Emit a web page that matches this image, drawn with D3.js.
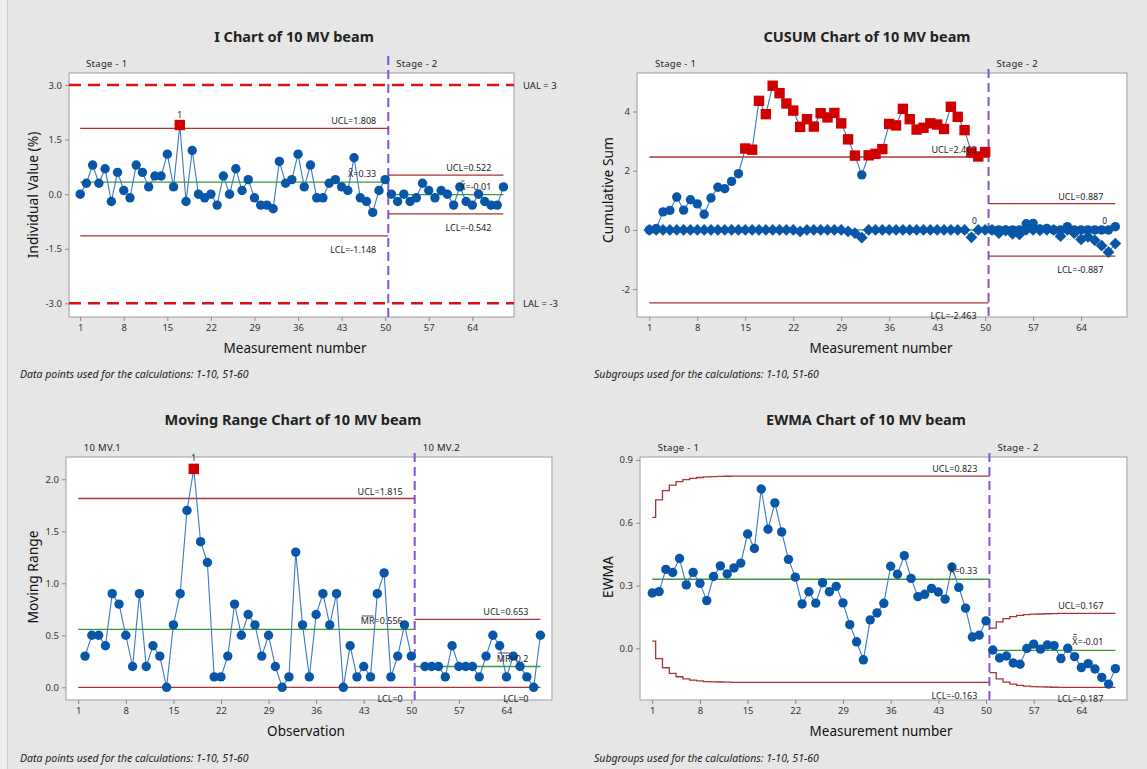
<!DOCTYPE html>
<html>
<head>
<meta charset="utf-8">
<script src="https://cdn.jsdelivr.net/npm/d3@7"></script>
<style>
  body { margin: 0; background: #e6e6e6; }
  svg { display: block; font-family: "Noto Sans", "Open Sans", sans-serif; }
</style>
</head>
<body>
<svg id="chart" width="1147" height="769"></svg>
<script>
// ---- values ----
const xTicks = [1, 8, 15, 22, 29, 36, 43, 50, 57, 64];
const stageSplit = 50.5;   // purple dashed line between stage 1 and 2
const lastObs = 69;

// I chart, observations 1..69
const individual = [
  0.0, 0.3, 0.8, 0.3, 0.7, -0.2, 0.6, 0.1, -0.1, 0.8,
  0.6, 0.2, 0.5, 0.5, 1.1, 0.2, 1.9, -0.2, 1.2, 0.0,
  -0.1, 0.0, -0.3, 0.5, 0.0, 0.7, 0.1, 0.4, -0.1, -0.3,
  -0.3, -0.4, 0.9, 0.3, 0.4, 1.1, 0.2, 0.8, -0.1, -0.1,
  0.3, 0.4, 0.2, 0.1, 1.0, -0.1, -0.2, -0.5, 0.1, 0.4,
  0.0, -0.2, 0.0, -0.2, -0.1, 0.3, 0.1, -0.1, 0.1, 0.0,
  -0.3, 0.2, -0.2, -0.3, 0.0, -0.2, -0.3, -0.3, 0.2
];

// moving range, observations 2..50 and 52..69
const mrStage1 = [
  0.3, 0.5, 0.5, 0.4, 0.9, 0.8, 0.5, 0.2, 0.9,
  0.2, 0.4, 0.3, 0.0, 0.6, 0.9, 1.7, 2.1, 1.4, 1.2,
  0.1, 0.1, 0.3, 0.8, 0.5, 0.7, 0.6, 0.3, 0.5, 0.2,
  0.0, 0.1, 1.3, 0.6, 0.1, 0.7, 0.9, 0.6, 0.9, 0.0,
  0.4, 0.1, 0.2, 0.1, 0.9, 1.1, 0.1, 0.3, 0.6, 0.3
];
const mrStage2 = [0.2, 0.2, 0.2, 0.1, 0.4, 0.2, 0.2, 0.2, 0.1, 0.3, 0.5, 0.4, 0.1, 0.3, 0.2, 0.1, 0.0, 0.5];

// CUSUM upper and lower sums, observations 1..69
const cusumUpper = [
  0, 0.05, 0.61, 0.66, 1.11, 0.67, 1.02, 0.88, 0.53, 1.08,
  1.44, 1.39, 1.64, 1.90, 2.75, 2.71, 4.36, 3.91, 4.87, 4.62,
  4.27, 4.03, 3.48, 3.74, 3.49, 3.94, 3.80, 3.95, 3.60, 3.06,
  2.51, 1.86, 2.52, 2.57, 2.73, 3.58, 3.53, 4.09, 3.74, 3.39,
  3.45, 3.60, 3.56, 3.41, 4.16, 3.82, 3.37, 2.62, 2.48, 2.63,
  0, 0, 0, 0, 0, 0.21, 0.22, 0.03, 0.05, 0,
  0, 0.11, 0, 0, 0, 0, 0, 0, 0.11
];
const cusumLower = [
  0, 0, 0, 0, 0, 0, 0, 0, 0, 0,
  0, 0, 0, 0, 0, 0, 0, 0, 0, 0,
  0, 0, -0.05, 0, 0, 0, 0, 0, 0, -0.05,
  -0.11, -0.26, 0, 0, 0, 0, 0, 0, 0, 0,
  0, 0, 0, 0, 0, 0, 0, -0.25, 0, 0,
  0, -0.11, -0.02, -0.13, -0.15, 0, 0, -0.01, 0, 0,
  -0.21, 0, -0.11, -0.32, -0.23, -0.35, -0.53, -0.75, -0.46
];

// EWMA, observations 1..69
const ewma = [
  0.264, 0.271, 0.377, 0.362, 0.429, 0.303, 0.363, 0.310, 0.228, 0.343,
  0.394, 0.355, 0.384, 0.407, 0.546, 0.477, 0.761, 0.569, 0.695, 0.556,
  0.425, 0.340, 0.212, 0.270, 0.216, 0.313, 0.270, 0.296, 0.217, 0.113,
  0.031, -0.055, 0.136, 0.169, 0.215, 0.392, 0.354, 0.443, 0.334, 0.247,
  0.258, 0.286, 0.269, 0.235, 0.388, 0.291, 0.192, 0.054, 0.063, 0.131,
  -0.008, -0.046, -0.037, -0.070, -0.076, -0.001, 0.020, -0.004, 0.016, 0.013,
  -0.049, 0.000, -0.040, -0.092, -0.073, -0.099, -0.139, -0.171, -0.097
];
// EWMA stepped limits (they level off at the last value)
const ewmaUcl1 = [0.626, 0.709, 0.753, 0.780, 0.796, 0.806, 0.812, 0.816, 0.819, 0.820, 0.821, 0.822, 0.823];
const ewmaLcl1 = [0.034, -0.049, -0.093, -0.120, -0.136, -0.146, -0.152, -0.156, -0.159, -0.160, -0.161, -0.162, -0.163];
const ewmaUcl2 = [0.096, 0.126, 0.142, 0.151, 0.157, 0.161, 0.163, 0.164, 0.165, 0.166, 0.167];
const ewmaLcl2 = [-0.116, -0.146, -0.162, -0.171, -0.177, -0.181, -0.183, -0.184, -0.185, -0.186, -0.187];

// control limits per stage
const iLimits = [
  { ucl: 1.808, cl: 0.33, lcl: -1.148, uclText: 'UCL=1.808', clText: '=0.33', lclText: 'LCL=-1.148' },
  { ucl: 0.522, cl: -0.01, lcl: -0.542, uclText: 'UCL=0.522', clText: '=-0.01', lclText: 'LCL=-0.542' }
];
const specLimits = [{ v: 3, text: 'UAL = 3' }, { v: -3, text: 'LAL = -3' }];
const mrLimits = [
  { ucl: 1.815, cl: 0.556, lcl: 0, uclText: 'UCL=1.815', clText: '=0.556', lclText: 'LCL=0' },
  { ucl: 0.653, cl: 0.2, lcl: 0, uclText: 'UCL=0.653', clText: '=0.2', lclText: 'LCL=0' }
];
const cusumLimits = [
  { ucl: 2.463, lcl: -2.463, uclText: 'UCL=2.463', lclText: 'LCL=-2.463' },
  { ucl: 0.887, lcl: -0.887, uclText: 'UCL=0.887', lclText: 'LCL=-0.887' }
];
const ewmaLimits = [
  { cl: 0.33, uclText: 'UCL=0.823', clText: '=0.33', lclText: 'LCL=-0.163' },
  { cl: -0.01, uclText: 'UCL=0.167', clText: '=-0.01', lclText: 'LCL=-0.187' }
];

const iTicks = [-3, -1.5, 0, 1.5, 3];
const cusumTicks = [-2, 0, 2, 4];
const mrTicks = [0, 0.5, 1.0, 1.5, 2.0];
const ewmaTicks = [0, 0.3, 0.6, 0.9];

// ---- colours ----
const blue = '#0756a8';
const lineBlue = '#3b79c2';
const red = '#d10000';
const limitRed = '#ac3434';
const green = '#3a9a3a';
const purple = '#8454d8';

const svg = d3.select('#chart');
const xDomain = [-0.8, 70.7];

// background
svg.append('rect').attr('width', 1147).attr('height', 769).attr('fill', '#e6e6e6');
svg.append('rect').attr('width', 7).attr('height', 769).attr('fill', '#efefef');
svg.append('line').attr('x1', 7.5).attr('x2', 7.5).attr('y1', 0).attr('y2', 769)
  .attr('stroke', '#cfcfcf');

// Build frame, axes and texts of one panel
function setupPanel(p) {
  const f = p.frame;
  const x = d3.scaleLinear().domain(xDomain).range([f.left, f.right]);
  const y = d3.scaleLinear().domain(p.yDomain).range([f.bottom, f.top]);
  const g = svg.append('g');

  g.append('rect')
    .attr('x', f.left).attr('y', f.top)
    .attr('width', f.right - f.left).attr('height', f.bottom - f.top)
    .attr('fill', '#fff').attr('stroke', '#ababab').attr('stroke-width', 1.2);

  const xAxis = g.append('g')
    .attr('transform', `translate(0, ${f.bottom})`)
    .call(d3.axisBottom(x).tickValues(xTicks).tickSize(4).tickPadding(3));
  const yAxis = g.append('g')
    .attr('transform', `translate(${f.left}, 0)`)
    .call(d3.axisLeft(y).tickValues(p.yTicks).tickFormat(p.yFormat).tickSize(4).tickPadding(3));
  [xAxis, yAxis].forEach((a) => {
    a.select('.domain').remove();
    a.selectAll('line').attr('stroke', '#8a8a8a');
    a.selectAll('text').attr('fill', '#333').style('font-size', '9.5px')
      .style('font-family', '"Noto Sans", sans-serif');
  });

  // title
  g.append('text').attr('x', p.titleX).attr('y', p.titleY)
    .attr('text-anchor', 'middle').attr('font-weight', 'bold')
    .attr('font-size', 14.5).attr('fill', '#222').text(p.title);
  // axis labels
  g.append('text').attr('x', p.xLabelX).attr('y', f.bottom + 36)
    .attr('text-anchor', 'middle').attr('font-size', 13.5).attr('fill', '#111').text(p.xLabel);
  g.append('text')
    .attr('transform', `translate(${p.yLabelX}, ${p.yLabelY}) rotate(-90)`)
    .attr('text-anchor', 'middle').attr('dominant-baseline', 'central')
    .attr('font-size', 13.8).attr('fill', '#111').text(p.yLabel);
  // stage names
  g.append('text').attr('x', x(0.5) + 9).attr('y', f.top - 6.5)
    .attr('font-size', 9.5).attr('letter-spacing', 0.3).attr('fill', '#222').text(p.stages[0]);
  g.append('text').attr('x', x(stageSplit) + 8).attr('y', f.top - 6.5)
    .attr('font-size', 9.5).attr('letter-spacing', 0.3).attr('fill', '#222').text(p.stages[1]);
  // footnote
  g.append('text').attr('x', p.noteX).attr('y', p.noteY)
    .attr('font-size', 10.5).attr('font-style', 'italic').attr('fill', '#222').text(p.note);

  return { g, x, y, f };
}

// Stage divider
function drawStageLine(pn, above) {
  pn.g.append('line')
    .attr('x1', pn.x(stageSplit)).attr('x2', pn.x(stageSplit))
    .attr('y1', pn.f.top - above).attr('y2', pn.f.bottom + 3)
    .attr('stroke', purple).attr('stroke-width', 2).attr('stroke-dasharray', '9,5');
}

// Horizontal reference line between two observation positions
function hLine(pn, a, b, v, color) {
  pn.g.append('line')
    .attr('x1', pn.x(a)).attr('x2', pn.x(b))
    .attr('y1', pn.y(v)).attr('y2', pn.y(v))
    .attr('stroke', color).attr('stroke-width', 1.3);
}

// Stepped limit line (EWMA)
function stepLine(pn, vals, start, end, firstObs) {
  const pts = [[start, vals[0]]];
  for (let k = 1; k < vals.length; k++) pts.push([firstObs + k - 0.5, vals[k]]);
  pts.push([end, vals[vals.length - 1]]);
  const line = d3.line().x((d) => pn.x(d[0])).y((d) => pn.y(d[1])).curve(d3.curveStepAfter);
  pn.g.append('path').attr('d', line(pts))
    .attr('fill', 'none').attr('stroke', limitRed).attr('stroke-width', 1.3);
}

// Text label next to a limit line, right aligned at xEnd
function limitLabel(pn, xEnd, v, text, below) {
  // labels under a line stay inside the frame bottom
  const down = Math.min(17, pn.f.bottom + 1.5 - pn.y(v));
  return pn.g.append('text')
    .attr('x', xEnd).attr('y', pn.y(v) + (below ? down : -4))
    .attr('text-anchor', 'end').attr('font-size', 9).attr('fill', '#222').text(text);
}

// Label with bar(s) over the leading symbol, e.g. X-bar, MR-bar
function barLabel(pn, xEnd, v, symbol, rest, bars) {
  const t = pn.g.append('text')
    .attr('x', xEnd).attr('y', pn.y(v) - 5)
    .attr('text-anchor', 'end').attr('font-size', 9).attr('fill', '#222').text(symbol + rest);
  const node = t.node();
  const sx = node.getStartPositionOfChar(0).x;
  const w = node.getSubStringLength(0, symbol.length);
  const by = pn.y(v) - 5 - 8.5;
  for (let b = 0; b < bars; b++) {
    pn.g.append('line')
      .attr('x1', sx + 1).attr('x2', sx + w - 1)
      .attr('y1', by - b * 2.5).attr('y2', by - b * 2.5)
      .attr('stroke', '#222').attr('stroke-width', 0.8);
  }
}

// Connected series, one path per stage, markers on top
function drawSeries(pn, pts, opts) {
  const line = d3.line().x((d) => pn.x(d.obs)).y((d) => pn.y(d.v));
  [pts.filter((d) => d.obs <= 50), pts.filter((d) => d.obs > 50)].forEach((seg) => {
    pn.g.append('path').attr('d', line(seg))
      .attr('fill', 'none').attr('stroke', lineBlue).attr('stroke-width', 1.1);
  });
  const marks = pn.g.append('g');
  pts.forEach((d) => {
    const cx = pn.x(d.obs), cy = pn.y(d.v);
    if (d.out) {
      marks.append('rect').attr('x', cx - 5.2).attr('y', cy - 5.2)
        .attr('width', 10.4).attr('height', 10.4).attr('fill', red);
    } else if (opts && opts.diamond) {
      const s = 5.9;
      marks.append('path').attr('d', `M${cx},${cy - s}L${cx + s},${cy}L${cx},${cy + s}L${cx - s},${cy}Z`)
        .attr('fill', blue);
    } else {
      marks.append('circle').attr('cx', cx).attr('cy', cy).attr('r', 4.7).attr('fill', blue);
    }
  });
}

const fmt1 = (d) => d.toFixed(1);

// ================= I chart =================
const iPanel = setupPanel({
  frame: { left: 69, right: 514, top: 73, bottom: 317 },
  yDomain: [-3.375, 3.33], yTicks: iTicks, yFormat: fmt1,
  title: 'I Chart of 10 MV beam', titleX: 294, titleY: 42,
  xLabel: 'Measurement number', xLabelX: 295,
  yLabel: 'Individual Value (%)', yLabelX: 32, yLabelY: 195,
  stages: ['Stage - 1', 'Stage - 2'],
  note: 'Data points used for the calculations: 1-10, 51-60', noteX: 20, noteY: 378
});
specLimits.forEach((s) => {
  iPanel.g.append('line')
    .attr('x1', iPanel.f.left).attr('x2', iPanel.f.right)
    .attr('y1', iPanel.y(s.v)).attr('y2', iPanel.y(s.v))
    .attr('stroke', '#dd1111').attr('stroke-width', 2.5).attr('stroke-dasharray', '12,7');
  iPanel.g.append('text').attr('x', iPanel.f.right + 9).attr('y', iPanel.y(s.v))
    .attr('dominant-baseline', 'central').attr('font-size', 9.5).attr('fill', '#222').text(s.text);
});
drawStageLine(iPanel, 17);
iLimits.forEach((L, s) => {
  const a = s === 0 ? 1 : stageSplit;
  const b = s === 0 ? stageSplit : lastObs;
  hLine(iPanel, a, b, L.ucl, limitRed);
  hLine(iPanel, a, b, L.lcl, limitRed);
  hLine(iPanel, a, b, L.cl, green);
});
drawSeries(iPanel, individual.map((v, i) => ({
  obs: i + 1, v, out: v > iLimits[i < 50 ? 0 : 1].ucl || v < iLimits[i < 50 ? 0 : 1].lcl
})));
iLimits.forEach((L, s) => {
  const xEnd = (s === 0 ? iPanel.x(stageSplit) : iPanel.x(lastObs)) - 12;
  limitLabel(iPanel, xEnd, L.ucl, L.uclText, false);
  limitLabel(iPanel, xEnd, L.lcl, L.lclText, true);
  barLabel(iPanel, xEnd, L.cl, 'X', L.clText, 1);
});
iPanel.g.append('text').attr('x', iPanel.x(17)).attr('y', iPanel.y(1.9) - 7.5)
  .attr('text-anchor', 'middle').attr('font-size', 8.5).attr('fill', '#222').text('1');

// ================= CUSUM chart =================
const cuPanel = setupPanel({
  frame: { left: 637, right: 1127, top: 73, bottom: 317 },
  yDomain: [-2.94, 5.30], yTicks: cusumTicks, yFormat: (d) => String(d),
  title: 'CUSUM Chart of 10 MV beam', titleX: 867, titleY: 42,
  xLabel: 'Measurement number', xLabelX: 881,
  yLabel: 'Cumulative Sum', yLabelX: 607, yLabelY: 190,
  stages: ['Stage - 1', 'Stage - 2'],
  note: 'Subgroups used for the calculations: 1-10, 51-60', noteX: 594, noteY: 378
});
drawStageLine(cuPanel, 4);
cusumLimits.forEach((L, s) => {
  const a = s === 0 ? 1 : stageSplit;
  const b = s === 0 ? stageSplit : lastObs;
  hLine(cuPanel, a, b, L.ucl, limitRed);
  hLine(cuPanel, a, b, L.lcl, limitRed);
  hLine(cuPanel, a, b, 0, green);
});
drawSeries(cuPanel, cusumUpper.map((v, i) => ({
  obs: i + 1, v, out: v > cusumLimits[i < 50 ? 0 : 1].ucl
})));
drawSeries(cuPanel, cusumLower.map((v, i) => ({
  obs: i + 1, v, out: v < cusumLimits[i < 50 ? 0 : 1].lcl
})), { diamond: true });
cusumLimits.forEach((L, s) => {
  const xEnd = (s === 0 ? cuPanel.x(stageSplit) : cuPanel.x(lastObs)) - 12;
  limitLabel(cuPanel, xEnd, L.ucl, L.uclText, false);
  limitLabel(cuPanel, xEnd, L.lcl, L.lclText, true);
});
[48, 67].forEach((o) => {
  cuPanel.g.append('text').attr('x', cuPanel.x(o) + 3).attr('y', cuPanel.y(0) - 6)
    .attr('text-anchor', 'middle').attr('font-size', 8.5).attr('fill', '#222').text('0');
});

// ================= Moving range chart =================
const mrPanel = setupPanel({
  frame: { left: 66, right: 552, top: 457, bottom: 700 },
  yDomain: [-0.122, 2.214], yTicks: mrTicks, yFormat: fmt1,
  title: 'Moving Range Chart of 10 MV beam', titleX: 293, titleY: 425,
  xLabel: 'Observation', xLabelX: 306,
  yLabel: 'Moving Range', yLabelX: 32, yLabelY: 577,
  stages: ['10 MV.1', '10 MV.2'],
  note: 'Data points used for the calculations: 1-10, 51-60', noteX: 20, noteY: 762
});
drawStageLine(mrPanel, 4);
mrLimits.forEach((L, s) => {
  const a = s === 0 ? 1 : stageSplit;
  const b = s === 0 ? stageSplit : lastObs;
  hLine(mrPanel, a, b, L.ucl, limitRed);
  hLine(mrPanel, a, b, L.lcl, limitRed);
  hLine(mrPanel, a, b, L.cl, green);
});
const mrPoints = mrStage1.map((v, i) => ({ obs: i + 2, v, out: v > mrLimits[0].ucl }))
  .concat(mrStage2.map((v, i) => ({ obs: i + 52, v, out: v > mrLimits[1].ucl })));
drawSeries(mrPanel, mrPoints);
mrLimits.forEach((L, s) => {
  const xEnd = (s === 0 ? mrPanel.x(stageSplit) : mrPanel.x(lastObs)) - 12;
  limitLabel(mrPanel, xEnd, L.ucl, L.uclText, false);
  limitLabel(mrPanel, xEnd, L.lcl, L.lclText, true);
  barLabel(mrPanel, xEnd, L.cl, 'MR', L.clText, 1);
});
mrPanel.g.append('text').attr('x', mrPanel.x(18)).attr('y', mrPanel.y(2.1) - 7.5)
  .attr('text-anchor', 'middle').attr('font-size', 8.5).attr('fill', '#222').text('1');

// ================= EWMA chart =================
const ewPanel = setupPanel({
  frame: { left: 640, right: 1127, top: 457, bottom: 700 },
  yDomain: [-0.247, 0.914], yTicks: ewmaTicks, yFormat: fmt1,
  title: 'EWMA Chart of 10 MV beam', titleX: 866, titleY: 425,
  xLabel: 'Measurement number', xLabelX: 881,
  yLabel: 'EWMA', yLabelX: 607, yLabelY: 577,
  stages: ['Stage - 1', 'Stage - 2'],
  note: 'Subgroups used for the calculations: 1-10, 51-60', noteX: 594, noteY: 762
});
drawStageLine(ewPanel, 4);
stepLine(ewPanel, ewmaUcl1, 1, stageSplit, 1);
stepLine(ewPanel, ewmaLcl1, 1, stageSplit, 1);
stepLine(ewPanel, ewmaUcl2, stageSplit, lastObs, 51);
stepLine(ewPanel, ewmaLcl2, stageSplit, lastObs, 51);
hLine(ewPanel, 1, stageSplit, ewmaLimits[0].cl, green);
hLine(ewPanel, stageSplit, lastObs, ewmaLimits[1].cl, green);
drawSeries(ewPanel, ewma.map((v, i) => ({ obs: i + 1, v, out: false })));
[[ewmaUcl1, ewmaLcl1], [ewmaUcl2, ewmaLcl2]].forEach(([u, l], s) => {
  const L = ewmaLimits[s];
  const xEnd = (s === 0 ? ewPanel.x(stageSplit) : ewPanel.x(lastObs)) - 12;
  limitLabel(ewPanel, xEnd, u[u.length - 1], L.uclText, false);
  limitLabel(ewPanel, xEnd, l[l.length - 1], L.lclText, true);
  barLabel(ewPanel, xEnd, L.cl, 'X', L.clText, 2);
});
</script>
</body>
</html>
